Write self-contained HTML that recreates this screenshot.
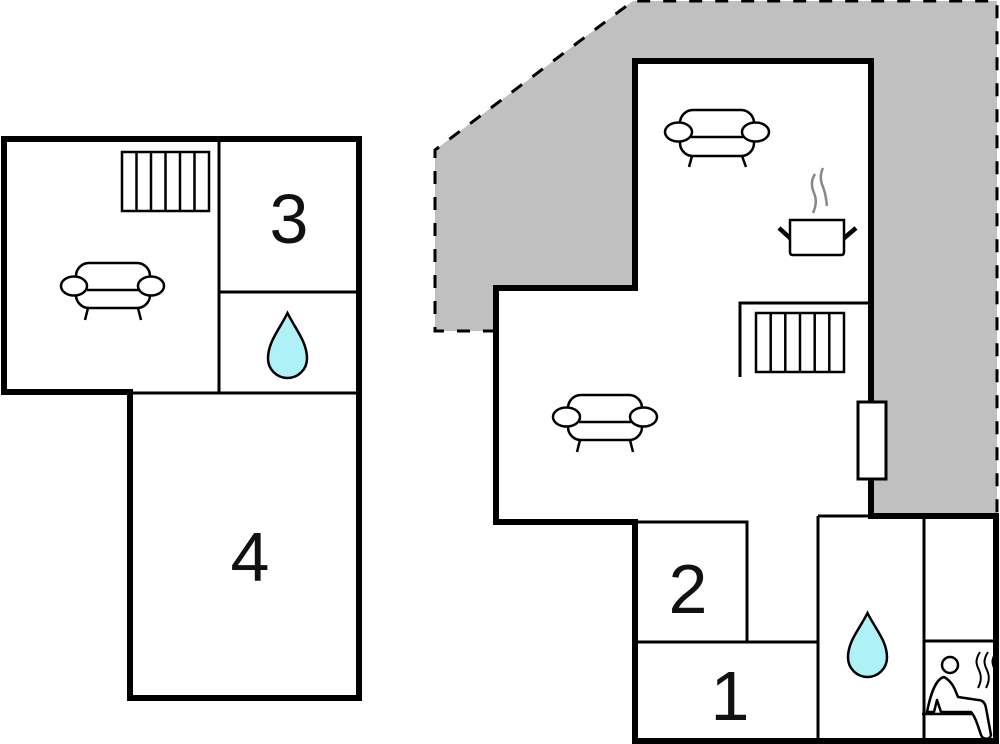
<!DOCTYPE html>
<html>
<head>
<meta charset="utf-8">
<style>
  html,body{margin:0;padding:0;background:#fff;}
  svg{display:block;}
  text{font-family:"Liberation Sans",Arial,sans-serif;fill:#111;}
</style>
</head>
<body>
<svg width="1000" height="744" viewBox="0 0 1000 744" xmlns="http://www.w3.org/2000/svg">
  <rect x="0" y="0" width="1000" height="744" fill="#fff"/>

  <!-- ===== LEFT PLAN ===== -->
  <g fill="none" stroke="#000" stroke-linejoin="miter">
    <polygon points="4,139 359,139 359,698 130,698 130,392 4,392" stroke-width="6" fill="#fff"/>
    <line x1="219" y1="139" x2="219" y2="392" stroke-width="3"/>
    <line x1="219" y1="292" x2="359" y2="292" stroke-width="3"/>
    <line x1="130" y1="393" x2="359" y2="393" stroke-width="3"/>
    <!-- stairs -->
    <rect x="122" y="152" width="87" height="59" stroke-width="2.5"/>
    <line x1="136.5" y1="152" x2="136.5" y2="211" stroke-width="2.5"/>
    <line x1="151" y1="152" x2="151" y2="211" stroke-width="2.5"/>
    <line x1="165.5" y1="152" x2="165.5" y2="211" stroke-width="2.5"/>
    <line x1="180" y1="152" x2="180" y2="211" stroke-width="2.5"/>
    <line x1="194.5" y1="152" x2="194.5" y2="211" stroke-width="2.5"/>
  </g>

  <!-- sofa left -->
  <g fill="#fff" stroke="#000" stroke-width="2.5" transform="translate(113,286)">
    <line x1="-25" y1="22" x2="-28" y2="34"/>
    <line x1="25" y1="22" x2="28" y2="34"/>
    <rect x="-37" y="-23" width="74" height="45" rx="13" ry="13"/>
    <line x1="-26" y1="4" x2="26" y2="4"/>
    <ellipse cx="-39" cy="0" rx="13" ry="9.5"/>
    <ellipse cx="38" cy="0" rx="13" ry="9.5"/>
  </g>

  <!-- drop left -->
  <path d="M287.5 313 C279 330 268 342 268 358.5 A19.5 19.5 0 0 0 307 358.5 C307 342 296 330 287.5 313 Z" fill="#aef2f8" stroke="#000" stroke-width="2.5"/>

  <text x="289" y="243" font-size="70" text-anchor="middle">3</text>
  <text x="250" y="581" font-size="70" text-anchor="middle">4</text>

  <!-- ===== RIGHT PLAN ===== -->
  <!-- grey area -->
  <polygon points="435,150 633,1 997,1 997,516 871,516 871,61 635,61 635,288 496,288 496,331 435,331" fill="#c0c0c0"/>
  <polyline points="496,331 435,331 435,150 633,1 997,1 997,516" fill="none" stroke="#000" stroke-width="3" stroke-dasharray="13,13"/>

  <!-- building -->
  <polygon points="635,61 871,61 871,516 996,516 996,741 635,741 635,522 496,522 496,288 635,288" fill="#fff" stroke="#000" stroke-width="6"/>

  <g fill="none" stroke="#000" stroke-width="3">
    <polyline points="740,377 740,303 871,303"/>
    <polyline points="635,522 747,522 747,642"/>
    <line x1="635" y1="642" x2="818" y2="642"/>
    <line x1="818" y1="516" x2="818" y2="741"/>
    <line x1="818" y1="516" x2="871" y2="516"/>
    <line x1="924" y1="516" x2="924" y2="741"/>
    <line x1="924" y1="641" x2="996" y2="641"/>
    <!-- stairs -->
    <rect x="756" y="313" width="88" height="59" stroke-width="2.5"/>
    <line x1="770.7" y1="313" x2="770.7" y2="372" stroke-width="2.5"/>
    <line x1="785.3" y1="313" x2="785.3" y2="372" stroke-width="2.5"/>
    <line x1="800" y1="313" x2="800" y2="372" stroke-width="2.5"/>
    <line x1="814.7" y1="313" x2="814.7" y2="372" stroke-width="2.5"/>
    <line x1="829.3" y1="313" x2="829.3" y2="372" stroke-width="2.5"/>
  </g>

  <!-- window/fireplace -->
  <rect x="858" y="402" width="28" height="77" fill="#fff" stroke="#000" stroke-width="3"/>

  <!-- sofa top -->
  <g fill="#fff" stroke="#000" stroke-width="2.5" transform="translate(717,132)">
    <line x1="-25" y1="24" x2="-28" y2="35"/>
    <line x1="25" y1="24" x2="29" y2="35"/>
    <rect x="-37" y="-22" width="74" height="46" rx="13" ry="13"/>
    <line x1="-26" y1="5" x2="26" y2="5"/>
    <ellipse cx="-38.5" cy="0" rx="13.5" ry="9.5"/>
    <ellipse cx="38.5" cy="0" rx="13.5" ry="9.5"/>
  </g>

  <!-- sofa middle -->
  <g fill="#fff" stroke="#000" stroke-width="2.5" transform="translate(605,417)">
    <line x1="-25" y1="23" x2="-28" y2="35"/>
    <line x1="25" y1="23" x2="28" y2="35"/>
    <rect x="-37" y="-22" width="74" height="45" rx="13" ry="13"/>
    <line x1="-26" y1="5" x2="26" y2="5"/>
    <ellipse cx="-38.5" cy="0" rx="13.5" ry="9.5"/>
    <ellipse cx="38.5" cy="0" rx="13.5" ry="9.5"/>
  </g>

  <!-- pot -->
  <g>
    <line x1="779" y1="228" x2="791" y2="239" stroke="#000" stroke-width="4.5"/>
    <line x1="843" y1="239" x2="856" y2="228" stroke="#000" stroke-width="4.5"/>
    <path d="M790 220 L844 220 L844 252 Q844 255 841 255 L793 255 Q790 255 790 252 Z" fill="#fff" stroke="#000" stroke-width="2.5"/>
    <path d="M815 174 C811 180 811 186 814 193 C817 200 816 206 813 213" fill="none" stroke="#888" stroke-width="2.5"/>
    <path d="M823 168 C820 174 820 180 823 187 C826 194 826 200 827 206" fill="none" stroke="#888" stroke-width="2.5"/>
  </g>

  <!-- drop right -->
  <path d="M867.5 613 C859 630 848 641 848 657.5 A19.5 19.5 0 0 0 887 657.5 C887 641 876 630 867.5 613 Z" fill="#aef2f8" stroke="#000" stroke-width="2.5"/>

  <!-- sauna -->
  <g fill="none" stroke="#000" stroke-width="2.5" stroke-linejoin="round">
    <circle cx="950" cy="665" r="8"/>
    <path d="M944 677 C936 679 931 692 927 712 L934 712 L937 700 L941 712 L971 712 C975 716 978 726 981 735 C983 740 990 740 991 735 L986 708 C985 702 982 700 978 700 L958 697 C955 690 953 682 944 677 Z" fill="#fff"/>
    <line x1="922" y1="714" x2="972" y2="714"/>
    <path d="M980 652 C975 660 976 664 979 670 C982 677 981 682 978 688" stroke-width="2"/>
    <path d="M988 652 C983 660 984 664 987 670 C990 677 989 682 986 688" stroke-width="2"/>
    <path d="M996 652 C991 660 992 664 995 670 C998 677 997 682 994 688" stroke-width="2"/>
  </g>
  <!-- re-draw right wall over sauna steam -->
  <line x1="996" y1="516" x2="996" y2="741" stroke="#000" stroke-width="6"/>

  <text x="688" y="613" font-size="70" text-anchor="middle">2</text>
  <text x="730" y="720" font-size="70" text-anchor="middle">1</text>
</svg>
</body>
</html>
